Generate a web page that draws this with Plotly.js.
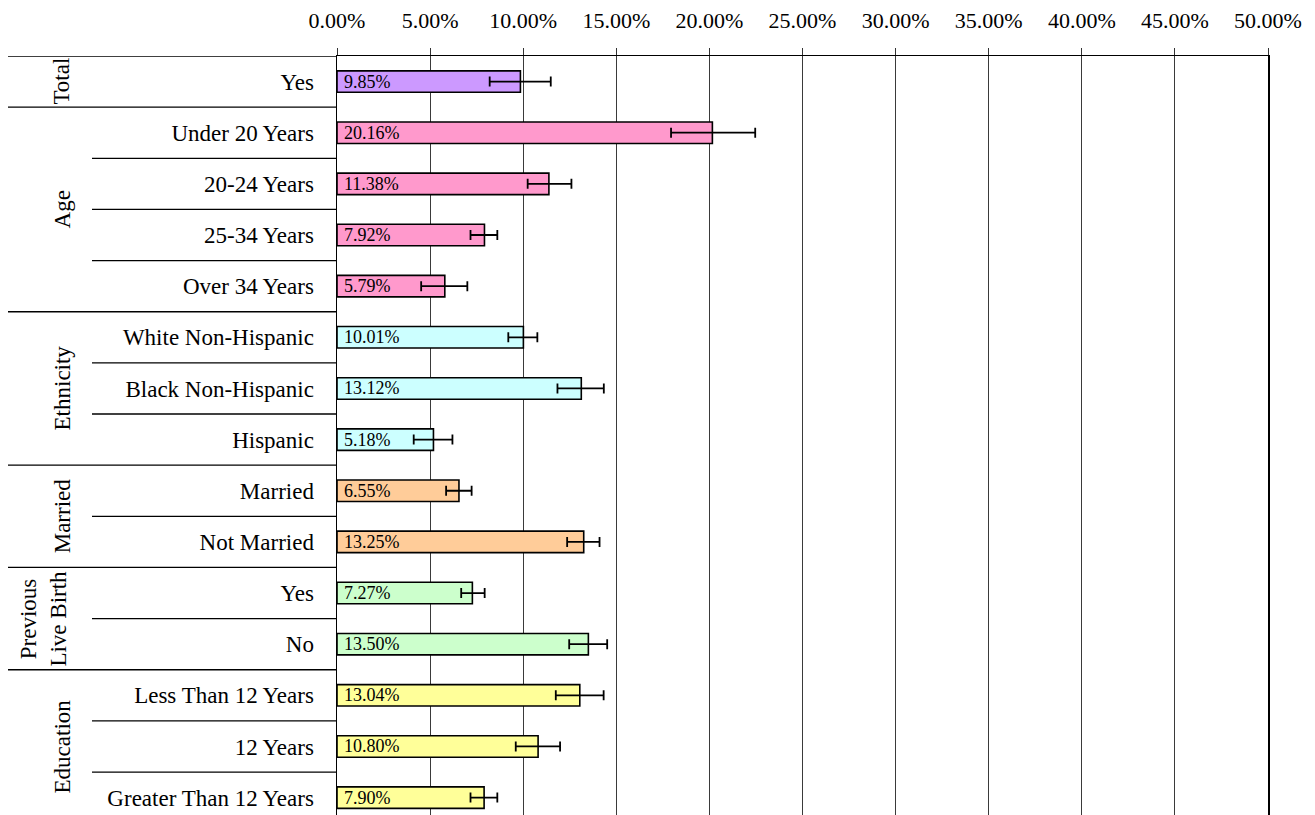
<!DOCTYPE html>
<html>
<head>
<meta charset="utf-8">
<script src="https://cdn.plot.ly/plotly-3.0.1.min.js"></script>
<style>
html,body{margin:0;padding:0;background:#fff;}
#chart{width:1315px;height:815px;}
</style>
</head>
<body>
<div id="chart"></div>
<script>
// ---- data ----
var labels = ["Yes","Under 20 Years","20-24 Years","25-34 Years","Over 34 Years",
  "White Non-Hispanic","Black Non-Hispanic","Hispanic","Married","Not Married",
  "Yes","No","Less Than 12 Years","12 Years","Greater Than 12 Years"];
var values = [9.85,20.16,11.38,7.92,5.79,10.01,13.12,5.18,6.55,13.25,7.27,13.50,13.04,10.80,7.90];
var errPlus  = [1.63,2.30,1.21,0.69,1.21,0.75,1.21,1.02,0.68,0.85,0.66,1.01,1.28,1.18,0.71];
var errMinus = [1.65,2.22,1.14,0.75,1.27,0.81,1.28,1.06,0.69,0.89,0.60,1.03,1.29,1.20,0.73];
var groupNames = ["Total","Age","Ethnicity","Married","Previous<br>Live Birth","Education"];
var groupSizes = [1,4,3,2,2,3];
var groupColors = ["#CC99FF","#FF99CC","#CCFFFF","#FFCC99","#CCFFCC","#FFFF99"];
var xTicks = [0,5,10,15,20,25,30,35,40,45,50];

// ---- build ----
var idx = labels.map(function(_, i){ return i; });
var colors = [];
groupSizes.forEach(function(n, g){ for (var k = 0; k < n; k++) colors.push(groupColors[g]); });

var FONT = "Liberation Serif, Times New Roman, serif";
var plotL = 337, plotW = 931;
function px2paper(p){ return (p - plotL) / plotW; }

var shapes = [];
var annotations = [];
var start = 0;
groupSizes.forEach(function(n, g){
  shapes.push({type:"line", xref:"paper", yref:"y", x0:px2paper(8), x1:0,
    y0:start-0.5, y1:start-0.5, line:{color:"#000", width:1.3}});
  for (var k = 1; k < n; k++) {
    shapes.push({type:"line", xref:"paper", yref:"y", x0:px2paper(92), x1:0,
      y0:start+k-0.5, y1:start+k-0.5, line:{color:"#000", width:1.3}});
  }
  var twoLine = groupNames[g].indexOf("<br>") >= 0;
  annotations.push({xref:"paper", yref:"y", x:px2paper(twoLine ? 44 : 62), y:start+(n-1)/2,
    text:groupNames[g], showarrow:false, textangle:-90, xanchor:"center", yanchor:"middle",
    font:{family:FONT, size:23, color:"#000"}});
  start += n;
});
shapes.push({type:"line", xref:"paper", yref:"y", x0:px2paper(8), x1:0,
  y0:start-0.5, y1:start-0.5, line:{color:"#000", width:1.3}});

// value labels inside bars, anchored at the bar base
values.forEach(function(v, i){
  annotations.push({xref:"x", yref:"y", x:0, y:i, xanchor:"left", yanchor:"middle",
    xshift:5, text:v.toFixed(2) + "%", showarrow:false,
    font:{family:FONT, size:18, color:"#000"}});
});

var trace = {
  type:"bar", orientation:"h",
  x: values, y: idx,
  width: 0.42,
  marker:{color: colors, line:{color:"#000", width:1.6}},
  error_x:{type:"data", symmetric:false, array:errPlus, arrayminus:errMinus,
    color:"#000", thickness:1.8, width:5},
  hoverinfo:"none"
};

var layout = {
  width:1315, height:815,
  margin:{l:plotL, r:1315-plotL-plotW, t:56, b:0, pad:0},
  paper_bgcolor:"#fff", plot_bgcolor:"#fff",
  showlegend:false,
  bargap:0,
  xaxis:{
    side:"top", range:[0,50], tickvals:xTicks,
    ticktext: xTicks.map(function(v){ return v.toFixed(2) + "%"; }),
    showgrid:true, gridcolor:"#3a3a3a", gridwidth:1,
    zeroline:false,
    showline:true, linecolor:"#000", linewidth:1.3,
    ticks:"outside", ticklen:7, tickcolor:"#333", tickwidth:1,
    ticklabelstandoff:11,
    tickfont:{family:FONT, size:22, color:"#000"},
    fixedrange:true, automargin:false
  },
  yaxis:{
    range:[14.34,-0.5],
    tickvals: idx, ticktext: labels,
    showgrid:false, zeroline:false,
    showline:true, mirror:true, linecolor:"#000", linewidth:1.5,
    ticks:"", ticklabelstandoff:17,
    tickfont:{family:FONT, size:23, color:"#000"},
    fixedrange:true, automargin:false
  },
  shapes: shapes,
  annotations: annotations
};

Plotly.newPlot("chart", [trace], layout, {displayModeBar:false, staticPlot:true});
</script>
</body>
</html>
